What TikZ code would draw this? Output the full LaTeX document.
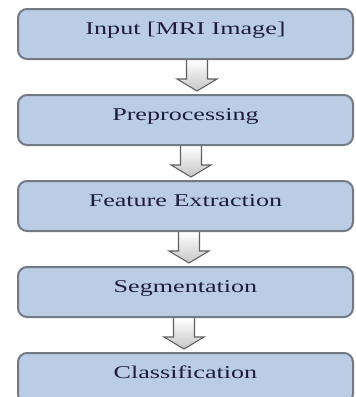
\documentclass[tikz,border=0pt]{standalone}
\usepackage{fontspec}
\setmainfont{Liberation Serif}[FakeStretch=1.45]
\usetikzlibrary{positioning, calc}
\pgfdeclarelayer{background}
\pgfsetlayers{background,main}
\definecolor{boxblue}{RGB}{186,205,228}
\definecolor{boxedge}{RGB}{116,122,132}
\definecolor{textnavy}{RGB}{32,28,62}
\tikzset{step_box/.style={draw=boxedge, line width=2pt, fill=boxblue, rounded corners=9pt,
  minimum width=335pt, minimum height=50pt, text height=10pt, text depth=10pt,
  text=textnavy, font=\fontsize{18}{20}\selectfont}}
\tikzset{block_arrow/.style={draw=gray!75!black, line width=1.1pt, line join=miter,
  top color=white, bottom color=gray!45}}
% block arrow from box #1 down to box #2, shifted by #3
\newcommand{\flowarrow}[3]{%
  \draw[block_arrow] ($(#1.south)+(#3-10.5pt,0)$) -- ++(0,-19pt) -- ++(-9.5pt,0)
    -- ($(#2.north)+(#3,3pt)$) -- ($(#1.south)+(#3+20pt,-19pt)$) -- ++(-9.5pt,0)
    -- ($(#1.south)+(#3+10.5pt,0)$);}

\begin{document}
\begin{tikzpicture}[node distance=34pt]

\useasboundingbox (0,0) rectangle (356pt,-397pt);

\node[step_box] (input) at (185.5pt,-34pt) {Input [MRI Image]};
\node[step_box, below=of input] (prep) {Preprocessing};
\node[step_box, below=of prep] (feature) {Feature Extraction};
\node[step_box, below=of feature] (segment) {Segmentation};
\node[step_box, below=of segment] (classify) {Classification};

\begin{pgfonlayer}{background}
\flowarrow{input}{prep}{11.5pt}
\flowarrow{prep}{feature}{5.5pt}
\flowarrow{feature}{segment}{3.5pt}
\flowarrow{segment}{classify}{-1.5pt}
\end{pgfonlayer}

\end{tikzpicture}
\end{document}
